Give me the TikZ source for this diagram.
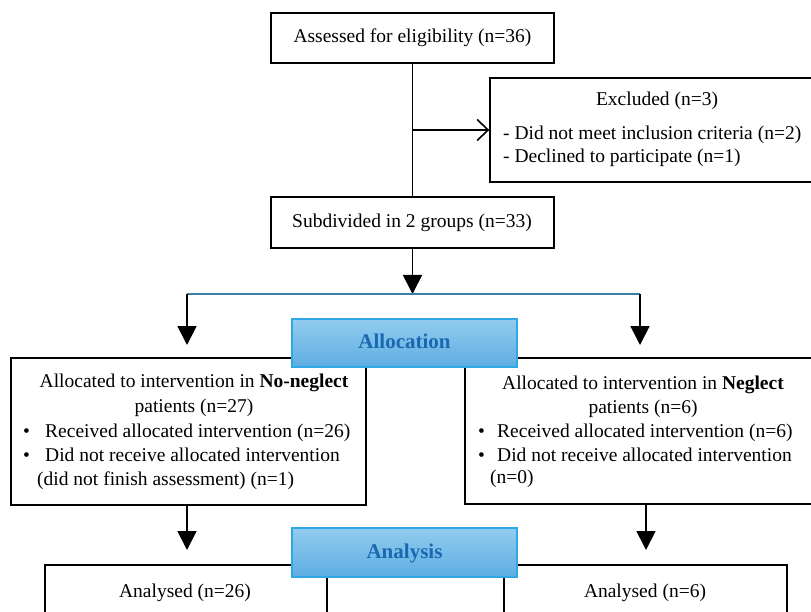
\documentclass[tikz,border=0pt]{standalone}
\usepackage{fontspec}
\setmainfont{Liberation Serif}
\usetikzlibrary{arrows.meta}
\definecolor{phaseT}{HTML}{92CBEE}
\definecolor{phaseB}{HTML}{5EAEE2}
\definecolor{phaseborder}{HTML}{30A8E4}
\definecolor{phasetext}{HTML}{1A69B0}
\definecolor{splitblue}{HTML}{3B7DA6}
\begin{document}
\begin{tikzpicture}[x=1pt,y=-1pt,
  box/.style={draw=black,line width=1.4pt,fill=white,rectangle,inner sep=0pt},
  txt/.style={inner sep=0pt,font=\fontsize{19.5}{24}\selectfont,text height=13.5pt,text depth=4.5pt},
  phase/.style={draw=phaseborder,line width=1.2pt,top color=phaseT,bottom color=phaseB,inner sep=0pt,
    minimum width=225pt,minimum height=48pt,font=\fontsize{21}{24}\selectfont\bfseries,text=phasetext,
    text height=14pt,text depth=3pt},
  tri/.style={line width=1.8pt,-{Triangle[length=19pt,width=19pt]}},
  barb/.style={line width=1.6pt,-{Straight Barb[length=11pt,width=21pt,line width=1.6pt]}},
  blueline/.style={draw=splitblue,line width=1.6pt}
]
\clip (0,0) rectangle (811,612);
\fill[white] (0,0) rectangle (811,612);

% boxes
\node[box,minimum width=283pt,minimum height=50pt,txt,inner sep=0pt] (top) at (412.5,38) {Assessed for eligibility (n=36)};
\node[box,minimum width=334pt,minimum height=104pt] (exc) at (657,130) {};
\node[box,minimum width=283pt,minimum height=51pt] (sub) at (412.5,222.5) {};
\node[box,minimum width=355pt,minimum height=147pt] (lalloc) at (188.5,431.5) {};
\node[box,minimum width=356pt,minimum height=146pt] (ralloc) at (643,431) {};
\node[box,minimum width=282pt,minimum height=90pt] (lan) at (186,610) {};
\node[box,minimum width=283pt,minimum height=90pt] (ran) at (645.5,610) {};

% texts
\node[txt] (subt) at (412,223) {Subdivided in 2 groups (n=33)};
\node[txt] (exct) at (657,101) {Excluded (n=3)};
\node[txt,anchor=west] (exc1) at (503,135) {- Did not meet inclusion criteria (n=2)};
\node[txt,anchor=west] (exc2) at (503,158) {- Declined to participate (n=1)};

\node[txt] (l1) at (194,383) {Allocated to intervention in \textbf{No-neglect}};
\node[txt] (l2) at (194,408) {patients (n=27)};
\node[txt,anchor=west] (l3) at (23,433) {\makebox[22pt][l]{\textbullet}Received allocated intervention (n=26)};
\node[txt,anchor=west] (l4) at (23,457) {\makebox[22pt][l]{\textbullet}Did not receive allocated intervention};
\node[txt,anchor=west] (l5) at (37,481) {(did not finish assessment) (n=1)};

\node[txt] (r1) at (643,385) {Allocated to intervention in \textbf{Neglect}};
\node[txt] (r2) at (643,409) {patients (n=6)};
\node[txt,anchor=west] (r3) at (478,433) {\makebox[19pt][l]{\textbullet}Received allocated intervention (n=6)};
\node[txt,anchor=west] (r4) at (478,457) {\makebox[19pt][l]{\textbullet}Did not receive allocated intervention};
\node[txt,anchor=west] (r5) at (490,479) {(n=0)};

\node[txt] (lant) at (185,593) {Analysed (n=26)};
\node[txt] (rant) at (645,593) {Analysed (n=6)};

% coordinates
\coordinate (split) at (412.5,294);
\coordinate (splitL) at (187,294);
\coordinate (splitR) at (640,294);
\coordinate (tipL) at (187,345);
\coordinate (tipR) at (640,345);
\coordinate (tipAL) at (187,550);
\coordinate (tipAR) at (646,550);

% connectors
\draw[line width=1.6pt] (top.south) -- (sub.north);
\draw[barb] (top.south |- exc.west) -- (exc.west);
\draw[tri] (sub.south) -- (split);
\draw[blueline] (splitL) -- (splitR);
\draw[tri] (splitL) -- (tipL);
\draw[tri] (splitR) -- (tipR);
\draw[tri] (lalloc.south -| tipAL) -- (tipAL);
\draw[tri] (ralloc.south -| tipAR) -- (tipAR);

% phase labels
\node[phase] (alloc) at (404.5,343) {Allocation};
\node[phase,minimum height=49pt] (anal) at (404.5,552.5) {Analysis};
\end{tikzpicture}
\end{document}
